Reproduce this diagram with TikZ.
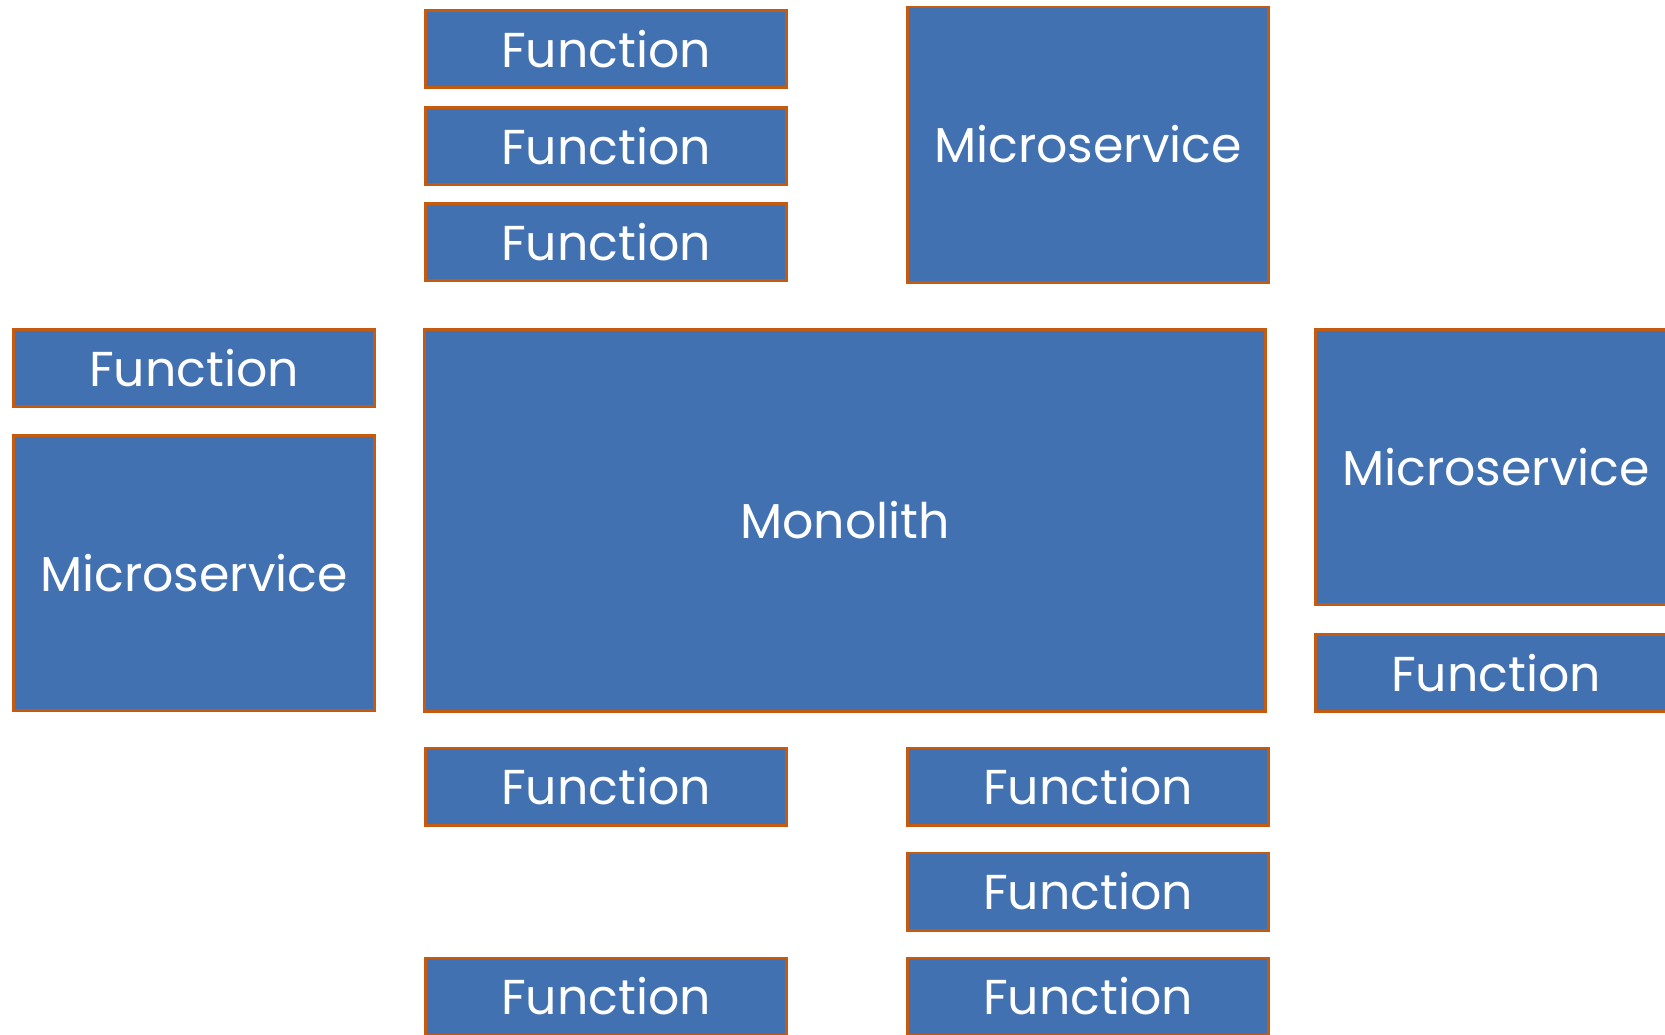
\documentclass[tikz,border=0pt]{standalone}
\usepackage{fontspec}
\setmainfont{Poppins}
\definecolor{boxfill}{RGB}{66,113,178}
\definecolor{boxline}{RGB}{197,90,17}
\begin{document}
\begin{tikzpicture}[x=0.5pt,y=-0.5pt,
  box/.style={draw=boxline, fill=boxfill, line width=1.4pt, text=white,
    inner sep=0pt, font=\fontsize{24.5}{30}\selectfont},
  fn/.style={box, minimum width=180.6pt, minimum height=38.6pt},
  ms/.style={box, minimum width=180.6pt, minimum height=137.6pt}]
\useasboundingbox (0,0) rectangle (1665,1034);
\clip (0,0) rectangle (1665,1034);
\node[fn] (f1) at (606,49) {Function};
\node[fn] (f2) at (606,146) {Function};
\node[fn] (f3) at (606,242) {Function};
\node[ms] (msT) at (1088,144.5) {Microservice};
\node[fn] (fL) at (194,368) {Function};
\node[ms] (msL) at (194,573) {Microservice};
\node[box, minimum width=420.6pt, minimum height=191.1pt] (mono) at (845,520.5) {Monolith};
\node[ms] (msR) at (1496,467) {Microservice};
\node[fn] (fR) at (1496,673) {Function};
\node[fn] (fB1) at (606,786.5) {Function};
\node[fn] (fB2) at (1088,786.5) {Function};
\node[fn] (fB3) at (1088,891.5) {Function};
\node[fn] (fB4) at (606,996.5) {Function};
\node[fn] (fB5) at (1088,996.5) {Function};
\end{tikzpicture}
\end{document}
